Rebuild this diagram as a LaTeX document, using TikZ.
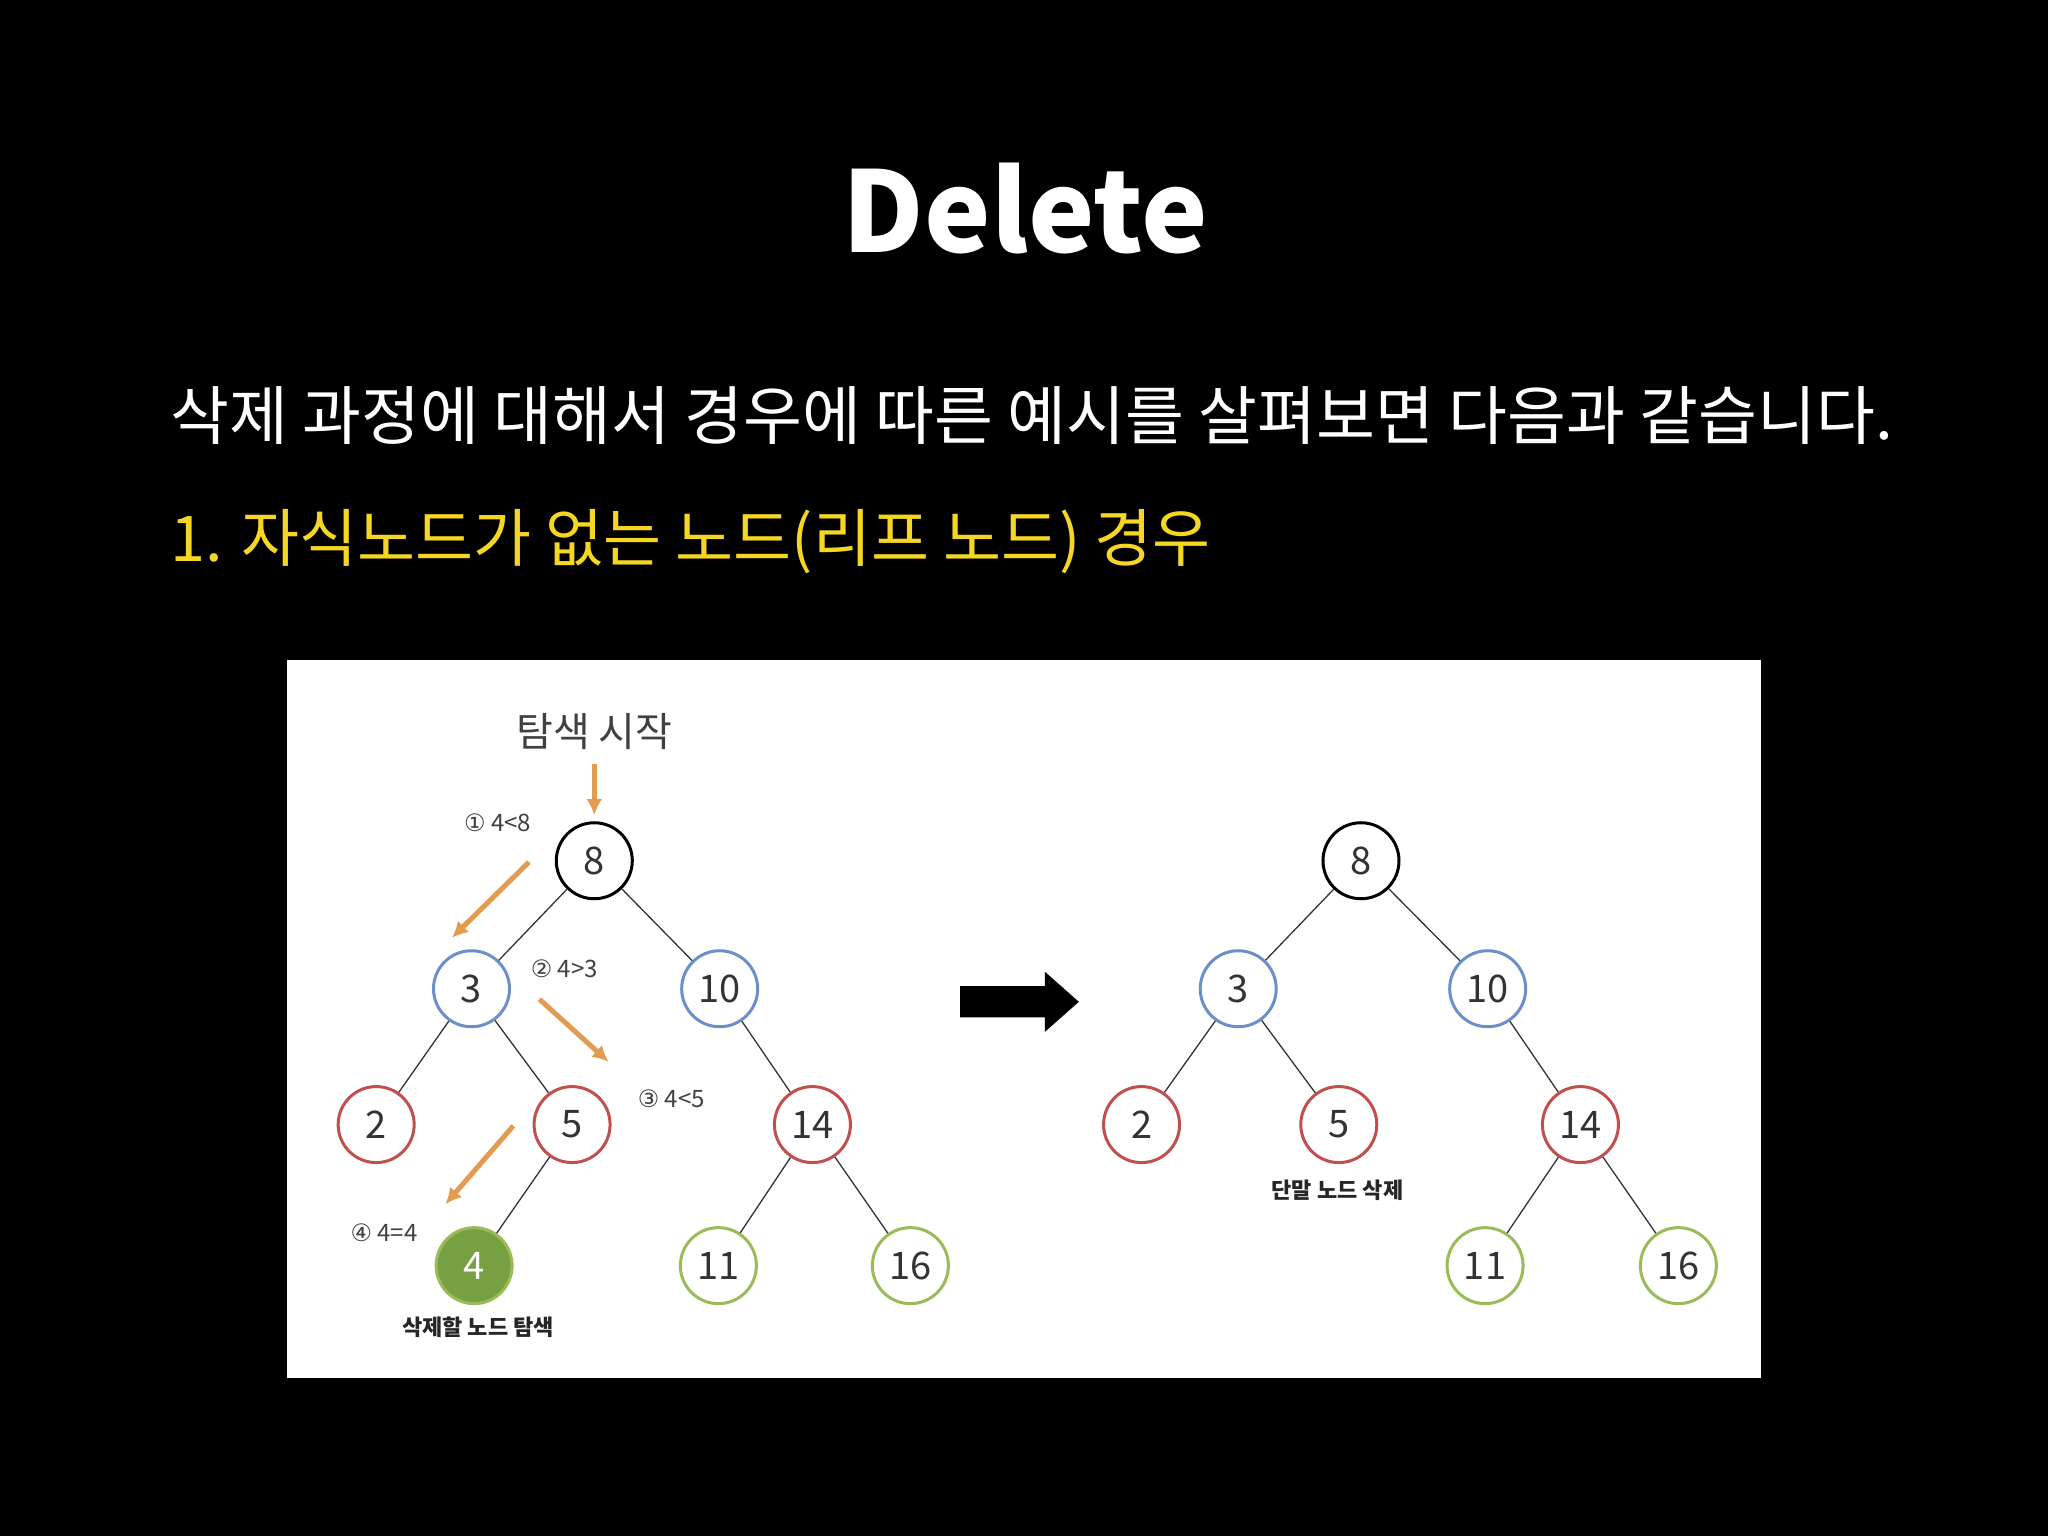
\documentclass[tikz,border=0pt]{standalone}
\usepackage{fontspec}
\usetikzlibrary{arrows.meta}
\setmainfont{Noto Sans CJK KR}
\newfontfamily\djvfont{DejaVu Sans}
\definecolor{cblue}{HTML}{6B8FC9}
\definecolor{cred}{HTML}{C0504D}
\definecolor{cgreen}{HTML}{9BBB59}
\definecolor{cgfill}{HTML}{77A043}
\definecolor{corange}{HTML}{E39B50}
\definecolor{cyel}{HTML}{F5D622}
\begin{document}
\begin{tikzpicture}[x=1.306bp,y=-1.306bp,
  nd/.style={circle,minimum size=76bp,inner sep=0pt,line width=3bp,fill=white,font=\fontsize{38bp}{40bp}\selectfont,text=black!80},
  bk/.style={nd,draw=black},
  bl/.style={nd,draw=cblue},
  rd/.style={nd,draw=cred},
  gr/.style={nd,draw=cgreen},
  edge/.style={line width=1.3bp,black!80},
  oa/.style={-{Latex[length=16bp,width=16bp]},line width=5bp,corange},
  lb/.style={font=\fontsize{24bp}{26bp}\selectfont,text=black!75}]
\fill[black] (0,0) rectangle (1568,1176);
\useasboundingbox (0,0) rectangle (1568,1176);
\node[text=white,font=\fontsize{112bp}{120bp}\selectfont\bfseries] (title) at (785,160) {Delete};
\node[text=white,font=\fontsize{64bp}{68bp}\selectfont,anchor=west] (l1) at (128,318) {삭제 과정에 대해서 경우에 따른 예시를 살펴보면 다음과 같습니다.};
\node[text=cyel,font=\fontsize{63bp}{68bp}\selectfont,anchor=west] (l2) at (128,415) {1. 자식노드가 없는 노드(리프 노드) 경우};
\fill[white] (220,505) rectangle (1348,1055);
% left tree
\node[bk] (a8) at (455,659) {8};
\node[bl] (a3) at (361,757) {3};
\node[bl] (a10) at (551,757) {10};
\node[rd] (a2) at (288,861) {2};
\node[rd] (a5) at (438,861) {5};
\node[rd] (a14) at (622,861) {14};
\node[nd,draw=cgreen,fill=cgfill,text=white] (a4) at (363,969) {4};
\node[gr] (a11) at (550,969) {11};
\node[gr] (a16) at (697,969) {16};
\foreach \p/\c in {a8/a3,a8/a10,a3/a2,a3/a5,a10/a14,a5/a4,a14/a11,a14/a16}
  \draw[edge] (\p) -- (\c);
\node[font=\fontsize{40bp}{42bp}\selectfont,text=black!75] (start) at (455,560) {탐색 시작};
\coordinate (o1s) at (455,585); \coordinate (o1e) at (455,624);
\coordinate (o2s) at (405,660); \coordinate (o2e) at (346,718);
\coordinate (o3s) at (413,765); \coordinate (o3e) at (466,813);
\coordinate (o4s) at (393,862); \coordinate (o4e) at (341,922);
\draw[oa] (o1s) -- (o1e);
\draw[oa] (o2s) -- (o2e);
\draw[oa] (o3s) -- (o3e);
\draw[oa] (o4s) -- (o4e);
\node[lb] (s1) at (381,630) {{\djvfont ①} 4<8};
\node[lb] (s2) at (432,742) {{\djvfont ②} 4>3};
\node[lb] (s3) at (514,841) {{\djvfont ③} 4<5};
\node[lb] (s4) at (294,944) {{\djvfont ④} 4=4};
\node[font=\fontsize{22bp}{24bp}\selectfont\bfseries,text=black!85] (c1) at (366,1016) {삭제할 노드 탐색};
% arrow
\fill[black] (735,755) -- (800,755) -- (800,744) -- (826,767) -- (800,790) -- (800,779) -- (735,779) -- cycle;
% right tree
\node[bk] (b8) at (1042,659) {8};
\node[bl] (b3) at (948,757) {3};
\node[bl] (b10) at (1139,757) {10};
\node[rd] (b2) at (874,861) {2};
\node[rd] (b5) at (1025,861) {5};
\node[rd] (b14) at (1210,861) {14};
\node[gr] (b11) at (1137,969) {11};
\node[gr] (b16) at (1285,969) {16};
\foreach \p/\c in {b8/b3,b8/b10,b3/b2,b3/b5,b10/b14,b14/b11,b14/b16}
  \draw[edge] (\p) -- (\c);
\node[font=\fontsize{22bp}{24bp}\selectfont\bfseries,text=black!85] (c2) at (1024,911) {단말 노드 삭제};
\end{tikzpicture}
\end{document}
